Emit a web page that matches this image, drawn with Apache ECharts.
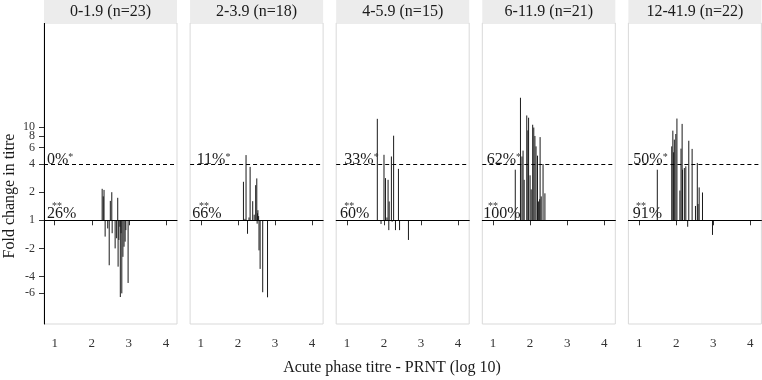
<!DOCTYPE html>
<html>
<head>
<meta charset="utf-8">
<script src="https://cdn.jsdelivr.net/npm/echarts@6/dist/echarts.min.js"></script>
<style>
  html, body { margin: 0; padding: 0; background: #fff; }
  #chart { width: 762px; height: 380px; }
</style>
</head>
<body>
<div id="chart"></div>
<script>
// facet strips
var panelTitles = ['0-1.9 (n=23)', '2-3.9 (n=18)', '4-5.9 (n=15)', '6-11.9 (n=21)', '12-41.9 (n=22)'];
// % labels above the 4-fold line and above the 1-fold line
var pctAbove4 = ['0%', '11%', '33%', '62%', '50%'];
var pctAbove1 = ['26%', '66%', '60%', '100%', '91%'];

// acute titre (log10) and log2 fold change, one pair per panel
var titre0 = [2.28, 2.31, 2.33, 2.36, 2.43, 2.47, 2.50, 2.54, 2.55, 2.63, 2.67, 2.70, 2.71, 2.73, 2.76, 2.77, 2.79, 2.81, 2.84, 2.87, 2.90, 2.92, 2.98];
var fold0  = [1.12, 0.85, 1.08, -0.58, -0.29, -1.6, 0.69, 1.0, -0.46, -1.0, -0.64, 0.8, -1.65, -0.7, -0.23, -2.73, -0.46, -2.6, -1.3, -0.94, -0.76, -0.35, -2.23];

var titre1 = [2.15, 2.19, 2.22, 2.26, 2.30, 2.33, 2.40, 2.44, 2.48, 2.51, 2.52, 2.53, 2.54, 2.56, 2.57, 2.60, 2.67, 2.80];
var fold1  = [1.37, 0.05, 2.32, -0.48, 0.1, 1.9, 0.68, 0.2, 1.25, 1.49, -0.12, 0.25, 0.36, 0.15, -1.07, -1.73, -2.56, -2.74];

var titre2 = [1.82, 1.92, 2.00, 2.04, 2.08, 2.11, 2.13, 2.14, 2.20, 2.22, 2.26, 2.31, 2.39, 2.42, 2.66];
var fold2  = [3.61, -0.13, 2.33, 1.5, 0.1, 1.44, -0.35, 0.67, 2.27, -0.05, 3.01, -0.35, 1.83, -0.35, -0.70];

var titre3 = [1.60, 1.74, 1.78, 1.81, 1.84, 1.91, 1.94, 1.96, 2.00, 2.03, 2.07, 2.10, 2.13, 2.16, 2.20, 2.23, 2.26, 2.27, 2.30, 2.35, 2.40];
var fold3  = [1.8, 4.36, 2.27, 2.48, 1.44, 3.73, 3.2, 3.65, 1.6, 1.1, 3.4, 3.3, 3.0, 2.63, 2.3, 0.67, 0.75, 2.96, 0.85, 2.0, 0.96];

var titre4 = [1.49, 1.88, 1.91, 1.93, 1.95, 1.99, 2.02, 2.10, 2.13, 2.16, 2.17, 2.22, 2.26, 2.31, 2.34, 2.43, 2.52, 2.57, 2.59, 2.62, 2.71, 2.98];
var fold4  = [1.80, 2.63, 3.19, 2.42, 2.87, 3.07, 3.62, 1.06, 2.55, 3.43, 1.80, 1.86, 1.92, -0.23, 2.83, 2.54, 0.51, 2.04, 0.58, 1.17, 0.99, -0.52];

var titres = [titre0, titre1, titre2, titre3, titre4];
var folds = [fold0, fold1, fold2, fold3, fold4];

var xTicks = [1, 2, 3, 4];
var yTickFolds = [-6, -4, -2, 1, 2, 4, 6, 10];
var yTickFoldsExtra = [8]; // crowded between 6 and 10, kept on its own axis so it is not dropped

// fold label -> log2 position (negative folds mean decrease)
function toLog2(f) {
  return f > 0 ? Math.log2(f) : -Math.log2(-f);
}

var FONT = 'Liberation Serif';
var panelLeft0 = 44, panelStep = 146.1, panelW = 133;
var hiOff = [3, 6.6, 8.1, 4.4, 4.9];
var loOff = [3, 2.2, 3.8, 1, 4.3];
var starOff = [8, 9, 8, 5.7, 7.6];

var chart = echarts.init(document.getElementById('chart'));

var grids = [], xAxes = [], yAxes = [], series = [], graphics = [];

function foldAxis(gridIndex, tickFolds, showLine) {
  var pos = tickFolds.map(toLog2);
  return {
    type: 'value', gridIndex: gridIndex, min: -3.69, max: 7.02,
    position: 'left',
    axisLine: { show: showLine, lineStyle: { color: '#000', width: 1 } },
    axisTick: { show: true, customValues: pos, length: 5, lineStyle: { color: '#333' } },
    axisLabel: {
      customValues: pos, margin: 9, fontFamily: FONT, fontSize: 12, color: '#333',
      hideOverlap: false, showMinLabel: true, showMaxLabel: true,
      formatter: function (v) {
        var best = 0;
        for (var k = 1; k < pos.length; k++) {
          if (Math.abs(pos[k] - v) < Math.abs(pos[best] - v)) best = k;
        }
        return String(tickFolds[best]);
      }
    },
    splitLine: { show: false }
  };
}

for (var i = 0; i < 5; i++) {
  var left = panelLeft0 + i * panelStep;
  grids.push({
    left: left, top: 23, width: panelW, height: 301,
    show: true, borderColor: '#d9d9d9', borderWidth: 1, backgroundColor: '#fff'
  });
  xAxes.push({
    type: 'value', gridIndex: i, min: 0.71, max: 4.3,
    axisLine: { show: true, lineStyle: { color: '#000', width: 1 } },
    axisTick: { show: true, customValues: xTicks, length: 5, lineStyle: { color: '#333' } },
    axisLabel: {
      customValues: xTicks, margin: 13, fontFamily: FONT, fontSize: 13, color: '#333',
      hideOverlap: false, showMinLabel: true, showMaxLabel: true
    },
    splitLine: { show: false }
  });
  var yAx = foldAxis(i, yTickFolds, true);
  yAx.show = i === 0;
  yAxes.push(yAx);

  var data = titres[i].map(function (t, j) { return [t, folds[i][j]]; });
  series.push({
    type: 'custom',
    xAxisIndex: i, yAxisIndex: i,
    data: data,
    silent: true,
    renderItem: function (params, api) {
      var x = api.value(0), y = api.value(1);
      var p0 = api.coord([x, 0]);
      var p1 = api.coord([x, y]);
      return {
        type: 'line',
        shape: { x1: p0[0], y1: p0[1], x2: p1[0], y2: p1[1] },
        style: { stroke: '#1a1a1a', lineWidth: 1 }
      };
    },
    markLine: {
      silent: true, symbol: 'none', label: { show: false },
      data: [
        { yAxis: 0, lineStyle: { type: 'solid', color: '#000', width: 1 } },
        { yAxis: 2, lineStyle: { type: [4, 3], color: '#000', width: 1 } }
      ]
    }
  });

  // strip
  graphics.push({
    type: 'rect', left: left, top: 0, z: 10,
    shape: { width: panelW, height: 23 },
    style: { fill: '#ececec' }
  });
  graphics.push({
    type: 'text', x: left + panelW / 2, y: 12, z: 11,
    style: { text: panelTitles[i], font: '16px "' + FONT + '"', fill: '#1a1a1a', align: 'center', verticalAlign: 'middle' }
  });
  // percentage labels
  graphics.push({
    type: 'text', x: left + hiOff[i], y: 160, z: 11,
    style: {
      text: pctAbove4[i] + '{s|*}', font: '16px "' + FONT + '"', fill: '#1a1a1a',
      align: 'left', verticalAlign: 'middle',
      rich: { s: { fontSize: 10, fontFamily: FONT, verticalAlign: 'top', fill: '#333' } }
    }
  });
  graphics.push({
    type: 'text', x: left + starOff[i], y: 206, z: 11,
    style: { text: '**', font: '10px "' + FONT + '"', fill: '#333', align: 'left', verticalAlign: 'middle' }
  });
  graphics.push({
    type: 'text', x: left + loOff[i], y: 214, z: 11,
    style: { text: pctAbove1[i], font: '16px "' + FONT + '"', fill: '#1a1a1a', align: 'left', verticalAlign: 'middle' }
  });
}

// second left axis on the first panel, only for the "8" tick
yAxes.push(foldAxis(0, yTickFoldsExtra, false));

// axis titles
graphics.push({
  type: 'text', x: 10, y: 196, rotation: Math.PI / 2,
  style: { text: 'Fold change in titre', font: '16px "' + FONT + '"', fill: '#1a1a1a', align: 'center', verticalAlign: 'middle' }
});
graphics.push({
  type: 'text', x: 392, y: 368,
  style: { text: 'Acute phase titre - PRNT (log 10)', font: '16px "' + FONT + '"', fill: '#1a1a1a', align: 'center', verticalAlign: 'middle' }
});

chart.setOption({
  animation: false,
  backgroundColor: '#fff',
  grid: grids,
  xAxis: xAxes,
  yAxis: yAxes,
  series: series,
  graphic: graphics
});
</script>
</body>
</html>
